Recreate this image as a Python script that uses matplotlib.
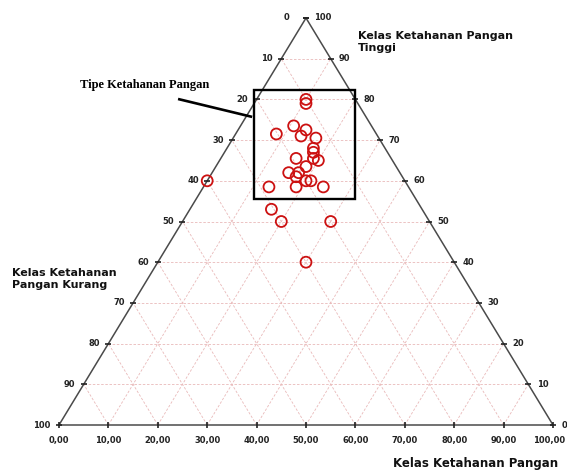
import matplotlib.pyplot as plt
from matplotlib.patches import Rectangle

# posisi titik: nilai sumbu bawah (0-100) dan nilai sumbu kanan / Tinggi (0-100)
titik_x = [50, 50, 44, 47.5, 50, 49, 52, 51.5, 51.5, 51.5, 52.5, 48, 50, 46.5,
           48.5, 48, 50, 51, 48, 53.5, 42.5, 43, 45, 55, 50, 30]
titik_tinggi = [80, 79, 71.5, 73.5, 72.5, 71, 70.5, 68, 67, 65.5, 65, 65.5, 63.5, 62,
                62, 61, 60, 60, 58.5, 58.5, 58.5, 53, 50, 50, 40, 60]

ticks = list(range(0, 101, 10))
label_bawah = ['%d,00' % t for t in ticks]
label_kiri = [str(t) for t in ticks]      # 0 di puncak, 100 di kiri bawah
label_kanan = [str(t) for t in ticks]     # 0 di kanan bawah, 100 di puncak

W, H = 567, 470


def fx(px):
    return px / W


def fy(py):
    return 1 - py / H


fig = plt.figure(figsize=(W / 100, H / 100), dpi=100)
ax = fig.add_axes([fx(59), fy(425), 494 / W, 407 / H])
ax.set_xlim(0, 100)
ax.set_ylim(0, 100)
ax.axis('off')

# grid segitiga
grid_kw = dict(color='#e9b9b9', lw=0.6, ls=(0, (3, 2)), zorder=1)
for k in ticks[1:-1]:
    ax.plot([k / 2, 100 - k / 2], [k, k], **grid_kw)
    ax.plot([k, k + (100 - k) / 2], [0, 100 - k], **grid_kw)
    ax.plot([k, k / 2], [0, k], **grid_kw)

# sisi segitiga
ax.plot([0, 100, 50, 0], [0, 0, 100, 0], color='#4a4a4a', lw=1.1,
        zorder=2, clip_on=False)

# tick kecil di tiap sisi
tk = dict(color='#222222', ms=5, mew=1.2, ls='none', zorder=3, clip_on=False)
ax.plot(ticks, [0] * len(ticks), marker='|', **tk)
ax.plot([t / 2 for t in ticks], ticks, marker='_', **tk)
ax.plot([100 - t / 2 for t in ticks], ticks, marker='_', **tk)

lab = dict(fontsize=6, fontweight='bold', color='#222222',
           textcoords='offset points', annotation_clip=False)
for t, s in zip(ticks, label_bawah):
    dx = -3 if t == 100 else 0
    ax.annotate(s, (t, 0), xytext=(dx, -11), ha='center', va='center', **lab)
for t, s in zip(ticks, label_kiri):
    h = 100 - t
    dx = -12 if t == 0 else -6
    ax.annotate(s, (h / 2, h), xytext=(dx, 0), ha='right', va='center', **lab)
for t, s in zip(ticks, label_kanan):
    ax.annotate(s, (100 - t / 2, t), xytext=(6, 0), ha='left', va='center', **lab)

# titik data
ax.scatter(titik_x, titik_tinggi, s=62, facecolors='none', edgecolors='#cc1111',
           linewidths=1.3, zorder=5, clip_on=False)

# kotak tipe ketahanan pangan
ax.add_patch(Rectangle((39.5, 55.5), 20.5, 26.8, fill=False, ec='black',
                       lw=1.7, zorder=6))
ax.plot([24.1, 39.1], [80.1, 75.7], color='black', lw=1.9, zorder=6,
        solid_capstyle='butt', clip_on=False)

fig.text(fx(80), fy(85), 'Tipe Ketahanan Pangan', family='Liberation Serif',
         fontweight='bold', fontsize=9, ha='left', va='center')

judul = dict(fontweight='bold', color='#111111', linespacing=1.25)
fig.text(fx(358), fy(31), 'Kelas Ketahanan Pangan\nTinggi', ha='left', va='top',
         fontsize=8, **judul)
fig.text(fx(12), fy(268), 'Kelas Ketahanan\nPangan Kurang', ha='left', va='top',
         fontsize=8, **judul)
fig.text(fx(393), fy(464), 'Kelas Ketahanan Pangan', ha='left', va='center',
         fontsize=8.5, **judul)

fig.savefig('out.png', dpi=100)
